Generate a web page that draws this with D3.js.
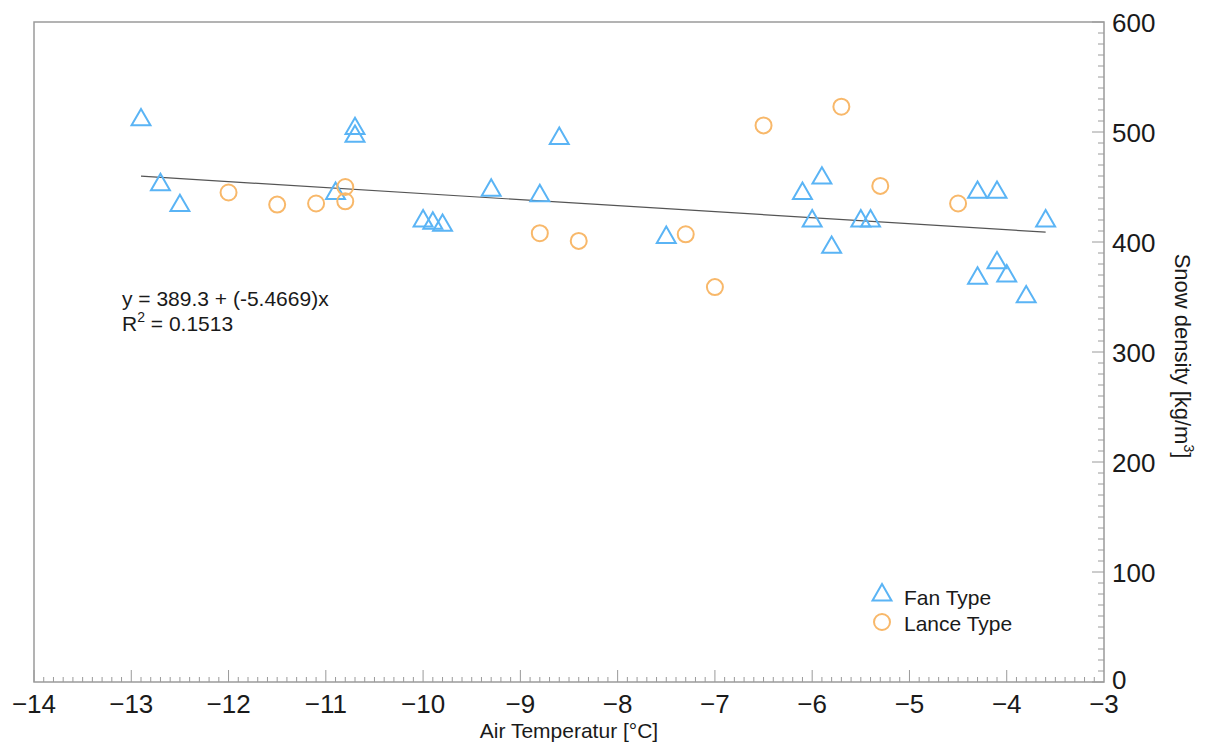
<!DOCTYPE html>
<html>
<head>
<meta charset="utf-8">
<script src="https://cdn.jsdelivr.net/npm/d3@7"></script>
<style>
  body { margin: 0; background: #fff; }
  svg text { font-family: "Liberation Sans", Arial, sans-serif; fill: #1a1a1a; }
</style>
</head>
<body>
<svg id="chart" width="1208" height="744"></svg>
<script>
const fanX = [-12.9, -12.7, -12.5, -10.9, -10.7, -10.7, -10.0, -9.9, -9.8, -9.3, -8.8, -8.6, -7.5,
  -6.1, -5.9, -6.0, -5.8, -5.5, -5.4, -4.3, -4.1, -4.3, -4.1, -4.0, -3.8, -3.6];
const fanY = [512, 453, 434, 445, 504, 497, 420, 418, 416, 448, 443, 495, 405,
  445, 459, 420, 396, 420, 420, 446, 446, 368, 382, 370, 351, 420];
const lanceX = [-12.0, -11.5, -11.1, -10.8, -10.8, -8.8, -8.4, -7.3, -7.0, -6.5, -5.7, -5.3, -4.5];
const lanceY = [445, 434, 435, 450, 437, 408, 401, 407, 359, 506, 523, 451, 435];
const fitIntercept = 389.3;
const fitSlope = -5.4669;
const fitR2 = 0.1513;
const xTicks = [-14, -13, -12, -11, -10, -9, -8, -7, -6, -5, -4, -3];
const yTicks = [0, 100, 200, 300, 400, 500, 600];

const margin = { left: 34, right: 1104, top: 22, bottom: 682 };
const fanColor = '#5ab4f5';
const lanceColor = '#f8b86a';
const frameColor = '#9a9a9a';

const svg = d3.select('#chart');
const x = d3.scaleLinear().domain([-14, -3]).range([margin.left, margin.right]);
const y = d3.scaleLinear().domain([0, 600]).range([margin.bottom, margin.top]);

// frame
svg.append('rect')
  .attr('x', margin.left).attr('y', margin.top)
  .attr('width', margin.right - margin.left)
  .attr('height', margin.bottom - margin.top)
  .attr('fill', 'none').attr('stroke', frameColor).attr('stroke-width', 1.5);

const minus = v => String(v).replace('-', '\u2212');

// x axis: minor + major ticks pointing up
const xMinor = d3.range(-14, -3.0001, 0.1).map(v => +v.toFixed(1));
const gx = svg.append('g').attr('transform', `translate(0,${margin.bottom})`);
gx.selectAll('.minor').data(xMinor).enter().append('line')
  .attr('x1', d => x(d)).attr('x2', d => x(d))
  .attr('y1', 0).attr('y2', d => Number.isInteger(d) ? -12 : -5)
  .attr('stroke', frameColor).attr('stroke-width', 1);
gx.selectAll('.lbl').data(xTicks).enter().append('text')
  .attr('x', d => x(d)).attr('y', 31)
  .attr('text-anchor', 'middle').attr('font-size', 26)
  .text(d => minus(d));

// y axis on right, ticks pointing left
const yMinor = d3.range(0, 601, 10);
const gy = svg.append('g').attr('transform', `translate(${margin.right},0)`);
gy.selectAll('.minor').data(yMinor).enter().append('line')
  .attr('y1', d => y(d)).attr('y2', d => y(d))
  .attr('x1', 0).attr('x2', d => d % 100 === 0 ? -12 : -6)
  .attr('stroke', frameColor).attr('stroke-width', 1);
gy.selectAll('.lbl').data(yTicks).enter().append('text')
  .attr('x', 8).attr('y', d => y(d) + (d === 0 ? 7 : 9.5))
  .attr('font-size', 26)
  .text(d => d);

// axis titles
svg.append('text')
  .attr('x', 569).attr('y', 738)
  .attr('text-anchor', 'middle').attr('font-size', 21)
  .text('Air Temperatur [°C]');

const yTitle = svg.append('text')
  .attr('transform', 'translate(1175,356) rotate(90)')
  .attr('text-anchor', 'middle').attr('font-size', 22);
yTitle.append('tspan').text('Snow density [kg/m');
yTitle.append('tspan').attr('dy', -9).attr('font-size', 14).text('3');
yTitle.append('tspan').attr('dy', 9).text(']');

// regression line
const allX = fanX.concat(lanceX);
const fitX = [d3.min(allX), d3.max(allX)];
svg.append('path')
  .attr('d', d3.line()(fitX.map(v => [x(v), y(fitIntercept + fitSlope * v)])))
  .attr('stroke', '#555').attr('stroke-width', 1.2).attr('fill', 'none');

// markers
const tri = d3.symbol().type(d3.symbolTriangle).size(155);
const fanPts = fanX.map((v, i) => [v, fanY[i]]);
const lancePts = lanceX.map((v, i) => [v, lanceY[i]]);

svg.append('g').selectAll('path').data(fanPts).enter().append('path')
  .attr('d', tri)
  .attr('transform', d => `translate(${x(d[0])},${y(d[1]) + 1})`)
  .attr('fill', 'none').attr('stroke', fanColor).attr('stroke-width', 2);

svg.append('g').selectAll('circle').data(lancePts).enter().append('circle')
  .attr('cx', d => x(d[0])).attr('cy', d => y(d[1]))
  .attr('r', 8)
  .attr('fill', 'none').attr('stroke', lanceColor).attr('stroke-width', 2);

// equation text
svg.append('text')
  .attr('x', 122).attr('y', 306).attr('font-size', 21)
  .text(`y = ${fitIntercept} + (${fitSlope})x`);
const r2 = svg.append('text').attr('x', 122).attr('y', 331).attr('font-size', 21);
r2.append('tspan').text('R');
r2.append('tspan').attr('dy', -9).attr('font-size', 14).text('2');
r2.append('tspan').attr('dy', 9).text(` = ${fitR2}`);

// legend
const legend = svg.append('g').attr('transform', 'translate(882,595)');
legend.append('path').attr('d', tri)
  .attr('fill', 'none').attr('stroke', fanColor).attr('stroke-width', 2);
legend.append('text').attr('x', 22).attr('y', 10).attr('font-size', 21).text('Fan Type');
legend.append('circle').attr('cy', 27).attr('r', 8)
  .attr('fill', 'none').attr('stroke', lanceColor).attr('stroke-width', 2);
legend.append('text').attr('x', 22).attr('y', 36).attr('font-size', 21).text('Lance Type');
</script>
</body>
</html>
